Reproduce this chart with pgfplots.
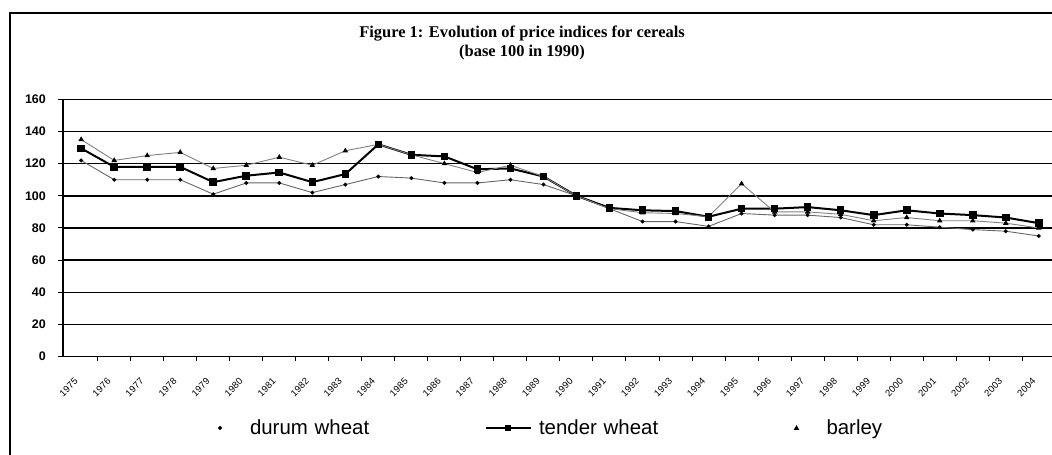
\documentclass[border=0pt]{standalone}
\usepackage{fontspec}
\setmainfont{Liberation Serif}
\setsansfont{Liberation Sans}
\usepackage{pgfplots}
\usepackage{pgfplotstable}
\pgfplotsset{compat=1.18}

\pgfplotstableread{
year durum tender barley
1975 122 129.5 135
1976 110 118 122
1977 110 118 125
1978 110 118 127
1979 101 108.5 117
1980 108 112.5 119
1981 108 114.5 124
1982 102 108.5 119
1983 107 113.5 128
1984 112 132 132
1985 111 125.5 125.5
1986 108 124.5 120
1987 108 116.5 114.5
1988 110 117 119
1989 107 112 112
1990 100 100 100
1991 92 92.5 92
1992 84 91 89.5
1993 84 90.5 89
1994 81 87 87
1995 89 92 107.5
1996 88 92 90
1997 88 93 90
1998 86.5 91 88.5
1999 82 88 84.5
2000 82 91 86.5
2001 80.5 89 84.5
2002 79 88 84.5
2003 78 86.5 83
2004 75 83 80
}\datatable

\begin{document}
\begin{tikzpicture}[x=1bp,y=1bp]
\useasboundingbox (0,0) rectangle (1052,455);
\draw[line width=1.2bp] (10,0) -- (10,442) -- (1052,442);
\node[font=\bfseries\fontsize{16.5}{16.5}\selectfont] at (522,421) {Figure 1: Evolution of price indices for cereals};
\node[font=\bfseries\fontsize{16.5}{16.5}\selectfont] at (522,402) {(base 100 in 1990)};
\begin{axis}[
  scale only axis,
  width=989bp, height=257.4bp,
  at={(63bp,98.3bp)}, anchor=south west,
  xmin=1974.45, xmax=2004.4, ymin=0, ymax=160,
  axis lines*=left,
  axis line style={black, line width=1.2bp},
  ytick={0,20,...,160},
  ymajorgrids,
  major grid style={black, line width=1.5bp},
  xtick={1975,1976,...,2004},
  xticklabels={1975,1976,1977,1978,1979,1980,1981,1982,1983,1984,1985,1986,1987,1988,1989,1990,1991,1992,1993,1994,1995,1996,1997,1998,1999,2000,2001,2002,2003,2004},
  minor xtick={1975.5,1976.5,...,2003.5},
  major x tick style={draw=none},
  minor tick length=4bp,
  major tick length=5bp,
  tick align=outside,
  tick style={black, line width=1bp},
  yticklabel={\pgfmathtruncatemacro\yv{round(\tick)}\yv},
  xticklabel style={font=\sffamily\fontsize{9.5}{10}\selectfont, inner sep=0pt, xshift=-5bp, yshift=-18bp, rotate=45, anchor=east},
  yticklabel style={font=\sffamily\bfseries\fontsize{12.5}{12.5}\selectfont, inner sep=0pt, anchor=east, xshift=-12bp},
  clip=false,
  legend columns=3,
  legend style={draw=none, fill=none, inner sep=0pt, outer sep=0pt,
    at={(0.136,-0.277)}, anchor=west,
    column sep=0pt, row sep=0pt,
    nodes={inner sep=0pt, text width=235bp, align=left, font=\sffamily\fontsize{20.5}{22}\selectfont},
    /tikz/every odd column/.append style={column sep=7.5bp}},
]
\addplot[gray!80!black, line width=0.9bp, mark=*, mark size=1.5bp, mark options={black, fill=black},
  legend image code/.code={\path[draw=none] (0bp,0bp) -- (45bp,0bp); \fill[black] (22.5bp,0bp) circle (1.6bp);}]
  table[x=year, y=durum] {\datatable};
\addlegendentry{durum wheat}
\addplot[black, line width=2bp, mark=square*, mark size=2.8bp, mark options={black, fill=black, solid}, 
  legend image code/.code={\draw[black, line width=1.5bp] (0bp,0bp) -- (45bp,0bp); \fill[black] (20.5bp,-2bp) rectangle (24.5bp,2bp);}]
  table[x=year, y=tender] {\datatable};
\addlegendentry{tender wheat}
\addplot[gray, line width=0.9bp, mark=triangle*, mark size=2.3bp, mark options={black, fill=black},
  legend image code/.code={\path[draw=none] (0bp,0bp) -- (45bp,0bp); \fill[black] (20.5bp,-1.5bp) -- (24.5bp,-1.5bp) -- (22.5bp,2bp) -- cycle;}]
  table[x=year, y=barley] {\datatable};
\addlegendentry{barley}
\end{axis}
\end{tikzpicture}
\end{document}
